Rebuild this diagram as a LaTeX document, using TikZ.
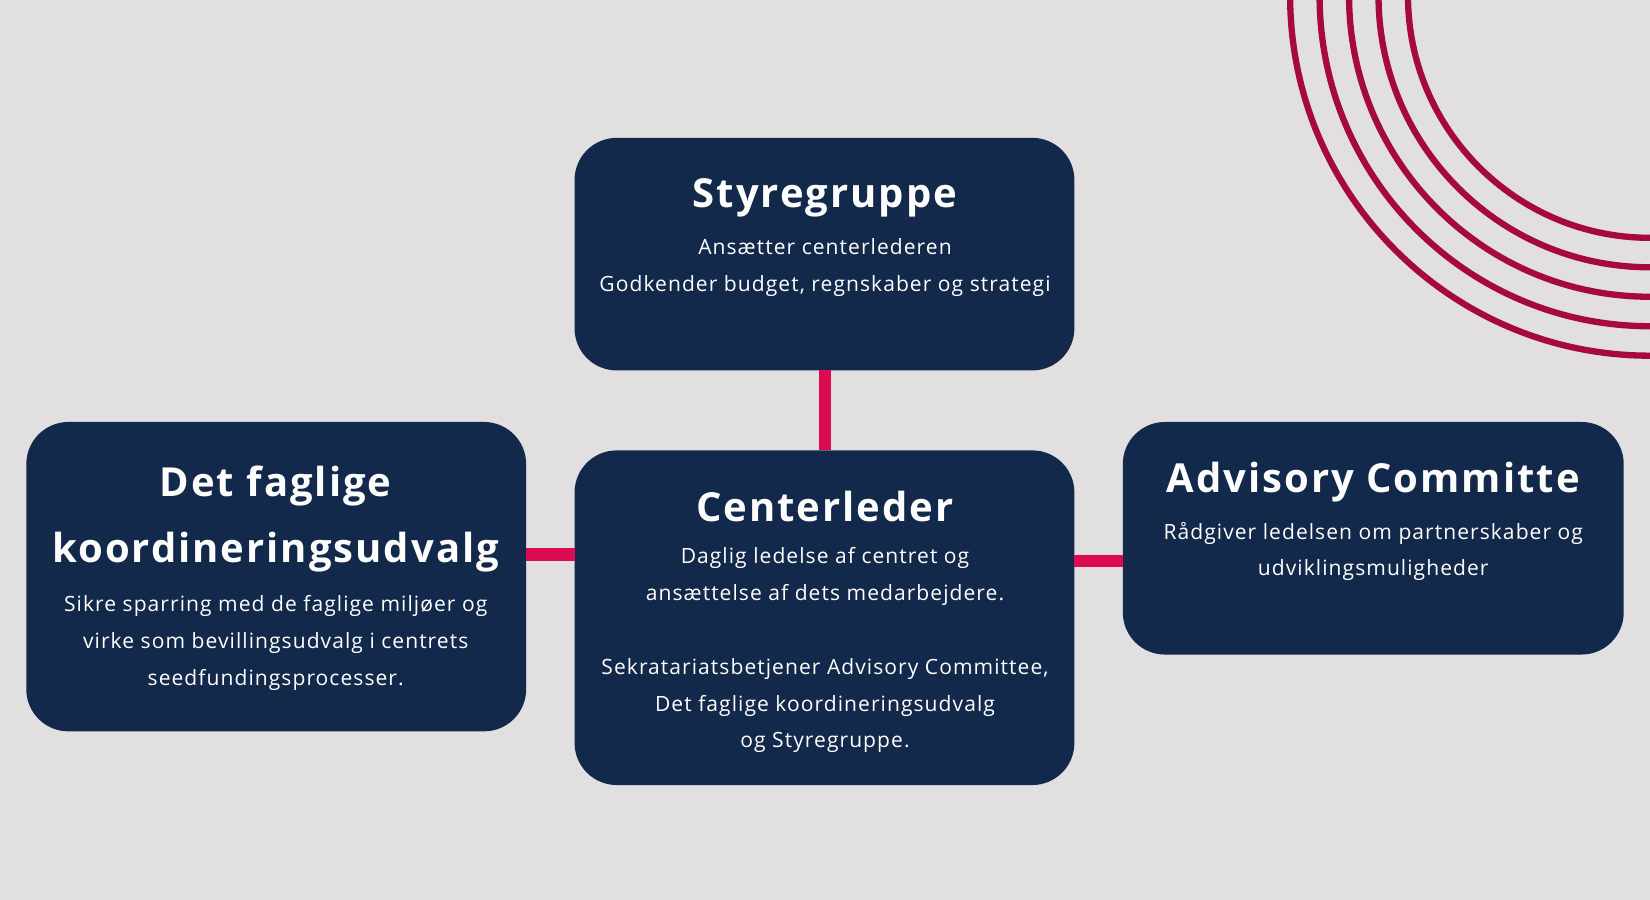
\documentclass[tikz,border=0pt]{standalone}
\usepackage{fontspec}
\setmainfont[LetterSpace=5]{Open Sans}
\newfontfamily\titlefont[LetterSpace=5]{Open Sans Bold}
\definecolor{bg}{HTML}{E1DFE0}
\definecolor{boxc}{HTML}{13294B}
\definecolor{link}{HTML}{DC0A50}
\definecolor{arcc}{HTML}{A6093D}
\tikzset{
  card/.style={fill=boxc, rounded corners=40pt},
  ttl/.style={text=white, font=\titlefont\fontsize{38}{46}\selectfont, inner sep=0},
  bdy/.style={text=white, font=\fontsize{20}{35}\selectfont, align=center, inner sep=0, anchor=center},
  conn/.style={draw=link, line width=12pt},
}
\begin{document}
\begin{tikzpicture}[x=1pt,y=-1pt]
\fill[bg] (0,0) rectangle (1568,855);
\useasboundingbox (0,0) rectangle (1568,855);
\begin{scope}
\clip (0,0) rectangle (1568,855);
\foreach \r in {230,258,286,314,342}
  \draw[arcc, line width=6pt] (1568,-4) ++(180:\r) arc[start angle=180, end angle=90, radius=\r];
\end{scope}
\fill[card] (546,131) rectangle (1021,352); \coordinate (sg) at (784,352);
\fill[card] (546,428) rectangle (1021,746); \coordinate (clt) at (784,428);
\fill[card] (25,401) rectangle (500,695); \coordinate (dfr) at (500,527);
\fill[card] (1067,401) rectangle (1543,622); \coordinate (acl) at (1067,533);
\coordinate (cll) at (546,527); \coordinate (clr) at (1021,533);
\draw[conn] (sg) -- (clt);
\draw[conn] (dfr) -- (cll);
\draw[conn] (clr) -- (acl);
\node[ttl] (t1) at (784,188) {Styregruppe};
\node[bdy] (b1) at (784,254) {Ansætter centerlederen\\Godkender budget, regnskaber og strategi};
\node[ttl] (t2) at (784,481) {Centerleder};
\node[bdy] (b2) at (784,618) {Daglig ledelse af centret og\\ansættelse af dets medarbejdere.\\[35pt]Sekratariatsbetjener Advisory Committee,\\Det faglige koordineringsudvalg\\og Styregruppe.};
\node[ttl] (t3) at (262,462) {Det faglige};
\node[ttl] (t3b) at (262,525) {koordineringsudvalg};
\node[bdy] (b3) at (262,611) {Sikre sparring med de faglige miljøer og\\virke som bevillingsudvalg i centrets\\seedfundingsprocesser.};
\node[ttl] (t4) at (1305,458) {Advisory Committe};
\node[bdy] (b4) at (1305,524) {Rådgiver ledelsen om partnerskaber og\\udviklingsmuligheder};
\end{tikzpicture}
\end{document}
